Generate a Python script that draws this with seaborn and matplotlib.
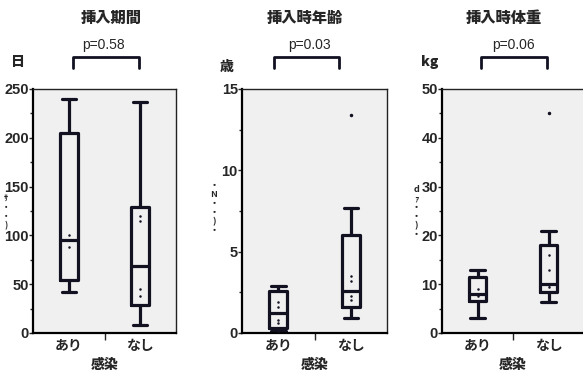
import numpy as np
import pandas as pd
import seaborn as sns
import matplotlib.pyplot as plt
from matplotlib.lines import Line2D

# groups
groups = ["あり", "なし"]

# 挿入期間 (日)
kikan_ari = [42, 50, 54, 88, 95, 100, 205, 220, 240]
kikan_nashi = [8, 15, 25, 29, 38, 45, 69, 115, 120, 129, 150, 200, 237]
# 挿入時年齢 (歳)
nenrei_ari = [0.1, 0.15, 0.2, 0.3, 0.6, 0.8, 1.2, 1.6, 1.9, 2.6, 2.7, 2.8, 2.9]
nenrei_nashi = [0.9, 1.2, 1.4, 1.6, 2.0, 2.3, 2.6, 3.2, 3.5, 6.0, 6.5, 7.7, 13.4]
# 挿入時体重 (kg)
taiju_ari = [3, 5, 6.5, 7.5, 8, 9, 11.5, 12, 13]
taiju_nashi = [6.3, 7, 8, 8.5, 9.5, 9.8, 10, 13, 16, 18, 19, 21, 45]

titles = ["挿入期間", "挿入時年齢", "挿入時体重"]
pvals = ["p=0.58", "p=0.03", "p=0.06"]
units = ["日", "歳", "kg"]
ymax = [250, 15, 50]
ystep = [50, 5, 10]
garbled = ["ｻ\n・\n・\n)", "・\nN\n・\n・\n)\n・", "d\nｧ\n・\n・\n)\n・"]

def long_df(a, b):
    return pd.DataFrame({"感染": [groups[0]] * len(a) + [groups[1]] * len(b),
                         "value": list(a) + list(b)})

data = [long_df(kikan_ari, kikan_nashi),
        long_df(nenrei_ari, nenrei_nashi),
        long_df(taiju_ari, taiju_nashi)]

sns.set_style("white")
plt.rcParams["font.family"] = ["Liberation Sans", "Noto Sans CJK JP"]
jp = ["Noto Sans CJK JP", "DejaVu Sans"]

W, H = 583, 372
fig = plt.figure(figsize=(W / 100, H / 100), dpi=100)

def px(x, y):
    return x / W, 1 - y / H

axes_px = [(33, 176), (242, 387), (442, 584)]
top, bottom = 89, 333
dark = "#111122"

for i, df in enumerate(data):
    l, r = axes_px[i]
    ax = fig.add_axes([l / W, 1 - bottom / H, (r - l) / W, (bottom - top) / H])
    ax.set_facecolor("#f0f0f0")
    sns.boxplot(data=df, x="感染", y="value", order=groups, ax=ax, width=0.25,
                fill=False, color=dark, linewidth=2.3, whis=1.5,
                flierprops=dict(marker=".", markersize=3, markerfacecolor=dark,
                                markeredgecolor=dark))
    # widen caps like the original
    for ln in ax.lines:
        xd, yd = np.asarray(ln.get_xdata(), float), np.asarray(ln.get_ydata(), float)
        if len(xd) == 2 and yd[0] == yd[1] and abs(abs(xd[1] - xd[0]) - 0.125) < 1e-6:
            c = xd.mean()
            ln.set_xdata([c - 0.1, c + 0.1])
    sns.stripplot(data=df[df["value"] < ymax[i] * 0.8], x="感染", y="value",
                  order=groups, ax=ax, jitter=False, size=1.8, color=dark)
    ax.set_xlim(-0.5, 1.5)
    ax.set_ylim(0, ymax[i])
    ax.set_yticks(np.arange(0, ymax[i] + 0.01, ystep[i]))
    ax.set_yticks(np.arange(ystep[i] / 2, ymax[i], ystep[i]), minor=True)
    ax.set_yticklabels([f"{v:g}" for v in np.arange(0, ymax[i] + 0.01, ystep[i])],
                       fontsize=10.5, fontweight="bold")
    ax.tick_params(axis="y", which="major", length=3, width=1, pad=0, direction="out", left=True)
    ax.tick_params(axis="y", which="minor", length=2.5, width=1, direction="out", left=True)
    ax.set_xticks([0, 1])
    ax.set_xticklabels(groups, family=jp, fontsize=10, fontweight="bold")
    ax.set_xticks([0.5], minor=True)
    ax.tick_params(axis="x", which="major", length=0, pad=4)
    ax.tick_params(axis="x", which="minor", length=5, width=1, direction="out", bottom=True)
    ax.set_xlabel("感染", family=jp, fontsize=10, fontweight="black", labelpad=4)
    ax.set_ylabel("")
    for s in ["left", "bottom"]:
        ax.spines[s].set_color("black")
        ax.spines[s].set_linewidth(1.6)
    for s in ["top", "right"]:
        ax.spines[s].set_color("#222222")
        ax.spines[s].set_linewidth(1.0)

# titles, p-values, brackets, units
title_x = [111, 305, 504]
p_x = [103, 309, 513]
br = [(73, 139), (274, 339), (481, 547)]
unit_pos = [(18, 62), (227, 67), (430, 62)]
garb_pos = [(6, 212), (214, 208), (416, 212)]
for i in range(3):
    fig.text(*px(title_x[i], 18), titles[i], family=jp, fontsize=11,
             fontweight="black", ha="center", va="center")
    fig.text(*px(p_x[i], 45), pvals[i], fontsize=10, ha="center", va="center")
    x0, x1 = br[i]
    xs = [x0 / W, x0 / W, x1 / W, x1 / W]
    ys = [1 - 68 / H, 1 - 57 / H, 1 - 57 / H, 1 - 68 / H]
    fig.add_artist(Line2D(xs, ys, color=dark, lw=2.0, transform=fig.transFigure))
    fig.text(*px(*unit_pos[i]), units[i], family=jp, fontsize=10,
             fontweight="black", ha="center", va="center")
    fig.text(*px(*garb_pos[i]), garbled[i], family=jp, fontsize=6.5 if i else 6,
             fontweight="bold", ha="center", va="center", linespacing=1.0)

fig.savefig("out.png", dpi=100)
